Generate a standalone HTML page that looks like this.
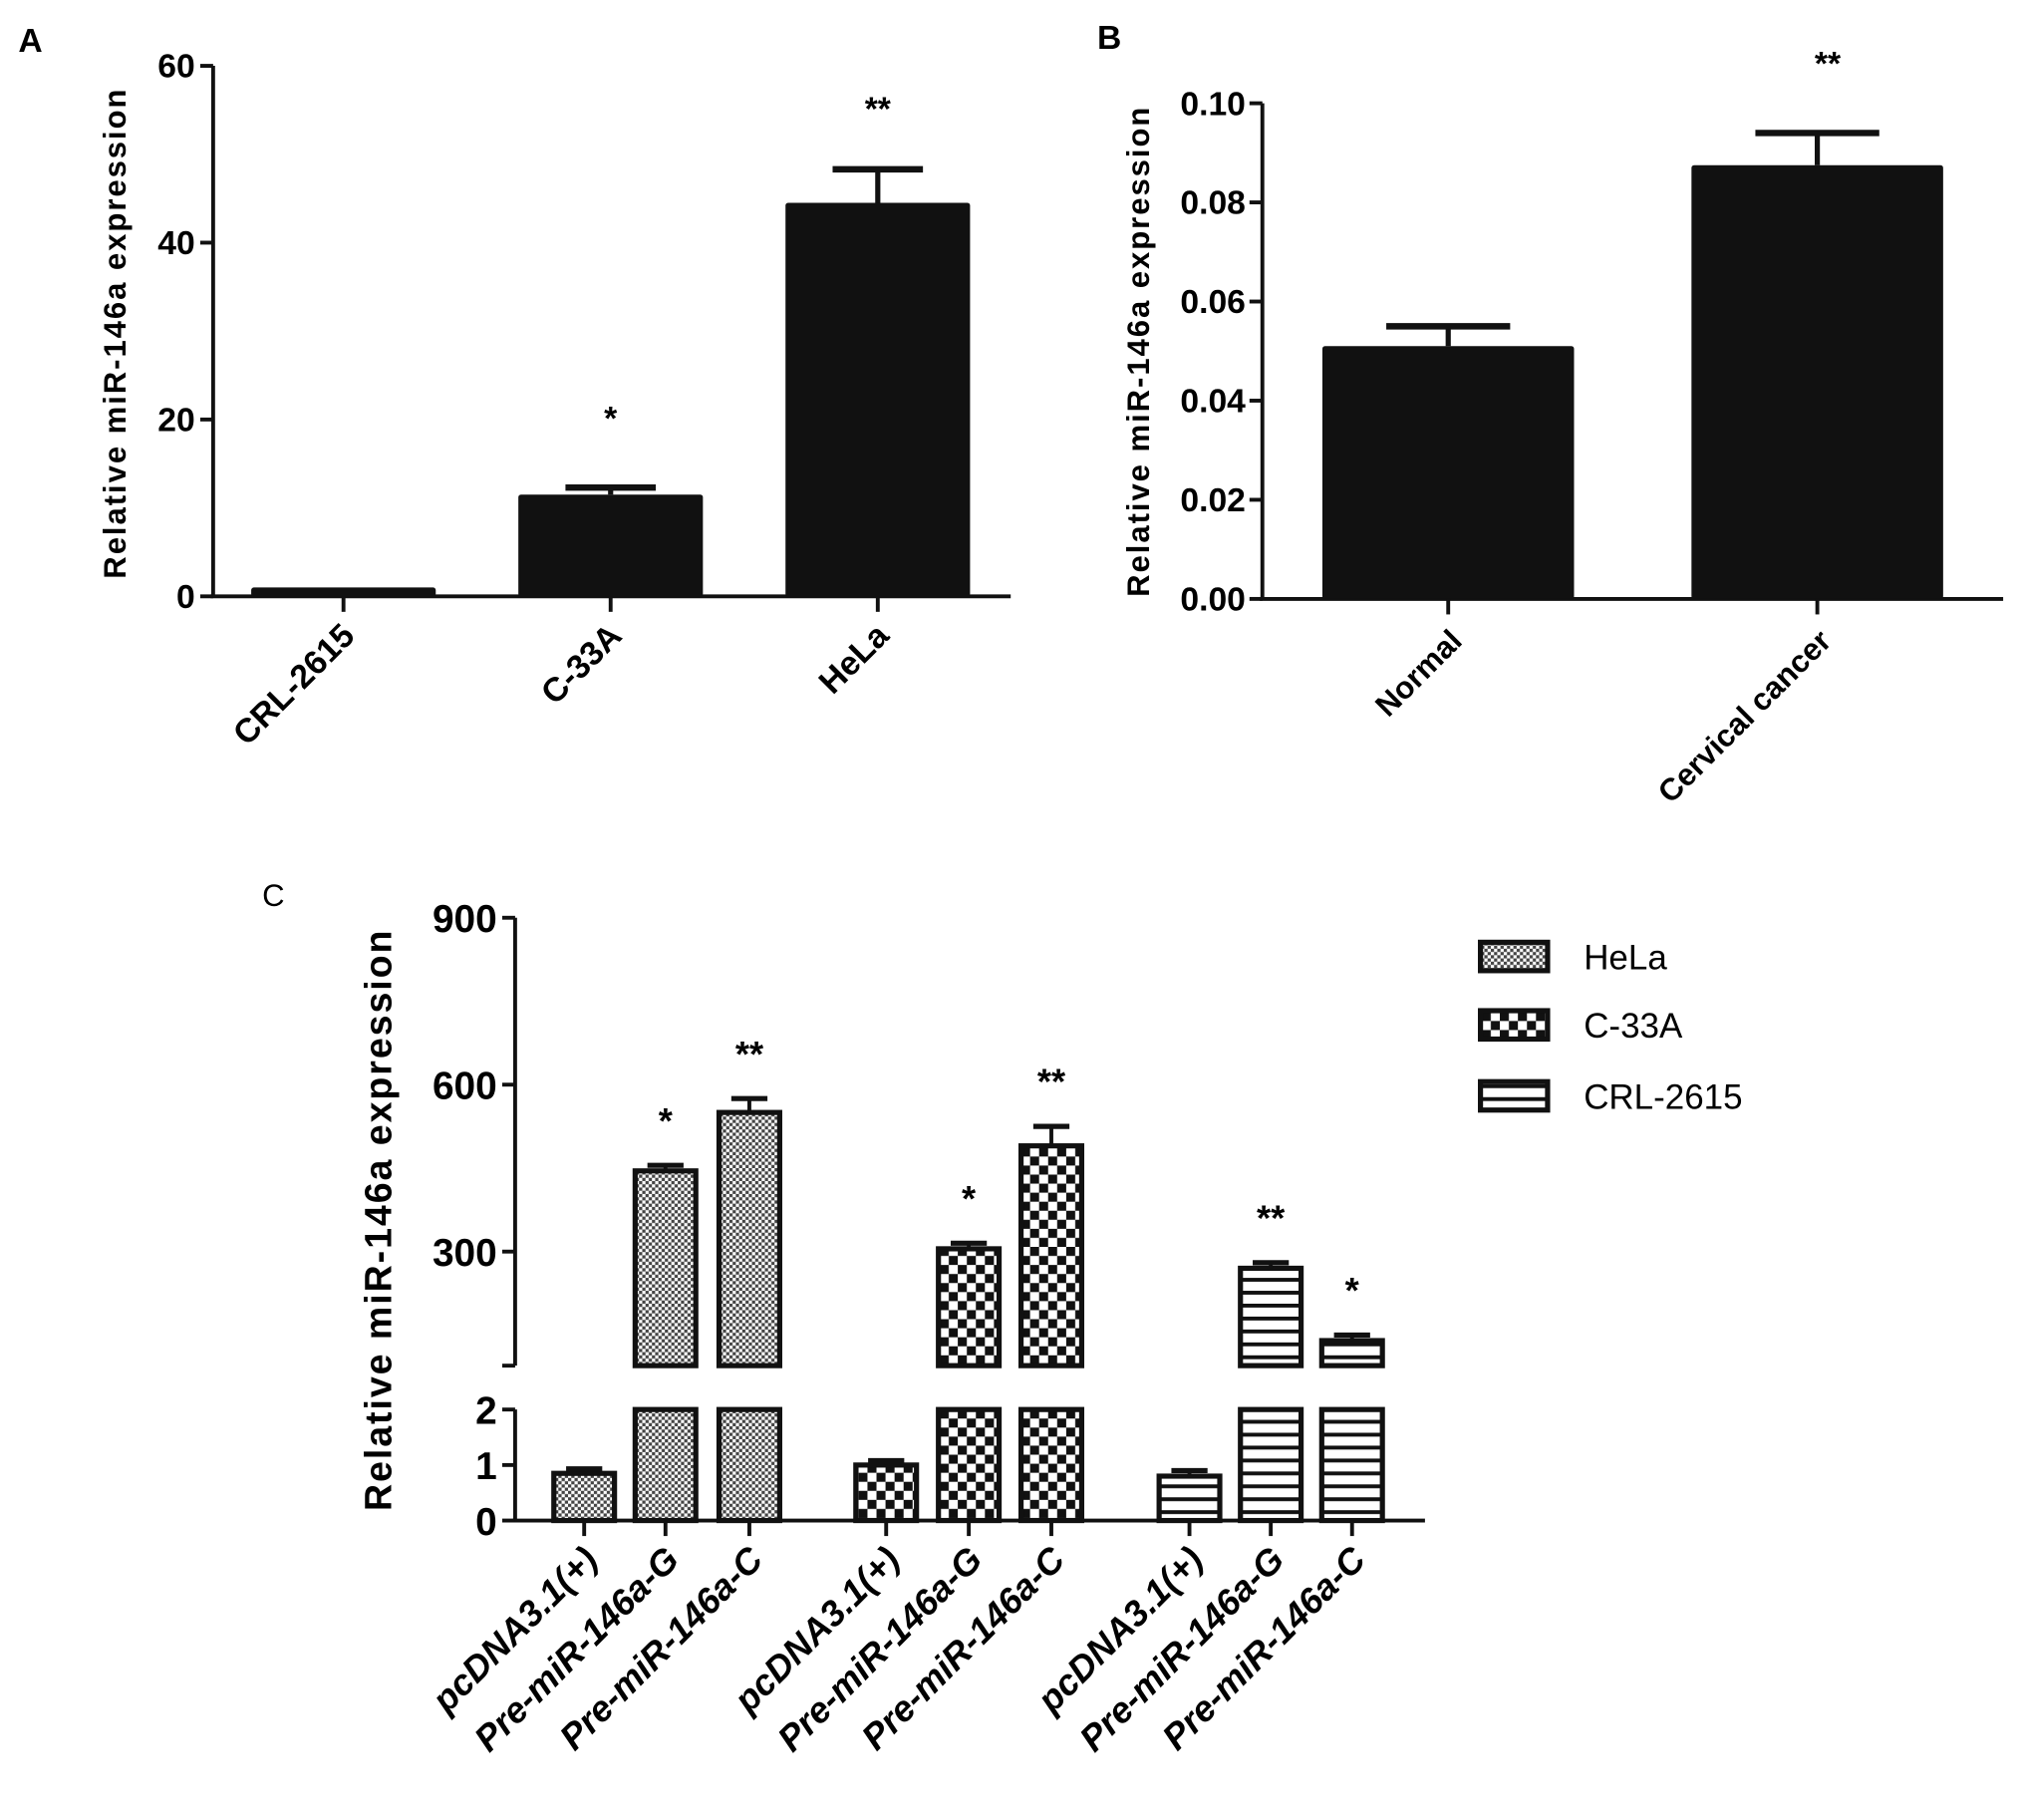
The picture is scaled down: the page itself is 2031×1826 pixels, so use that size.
<!DOCTYPE html>
<html><head><meta charset="utf-8"><style>
html,body{margin:0;padding:0;background:#fff;}
svg{display:block;font-family:"Liberation Sans",Arial,sans-serif;}
</style></head><body>
<svg id="fig" width="2031" height="1826" viewBox="0 0 1568 1410" xmlns="http://www.w3.org/2000/svg">
<defs>
<pattern id="patHela" width="5" height="5" patternUnits="userSpaceOnUse"><rect width="5" height="5" fill="#fff"/><rect width="2.5" height="2.5" fill="#444"/><rect x="2.5" y="2.5" width="2.5" height="2.5" fill="#444"/></pattern>
<pattern id="patC33" width="14" height="14" patternUnits="userSpaceOnUse"><rect width="14" height="14" fill="#fff"/><rect width="7" height="7" fill="#111"/><rect x="7" y="7" width="7" height="7" fill="#111"/></pattern>
<pattern id="patCRL" width="10" height="10" patternUnits="userSpaceOnUse"><rect width="10" height="10" fill="#fff"/><rect y="0" width="10" height="3" fill="#111"/></pattern>
</defs>
<g id="gA"></g>
<g id="gB"></g>
<g id="gC"></g>
</svg>
<script>
// Panel A data
const aCategories = ["CRL-2615","C-33A","HeLa"];
const aValues = [1.0, 11.5, 44.5];
const aErrors = [0.0, 0.8, 3.8];
const aStars = ["", "*", "**"];
const aTicks = [0,20,40,60];
// Panel B data
const bCategories = ["Normal","Cervical cancer"];
const bValues = [0.051, 0.0875];
const bErrors = [0.004, 0.0065];
const bStars = ["", "**"];
const bTicks = [0.00,0.02,0.04,0.06,0.08,0.10];
// Panel C data
const cGroups = ["HeLa","C-33A","CRL-2615"];
const cCategories = ["pcDNA3.1(+)","Pre-miR-146a-G","Pre-miR-146a-C"];
const cHela = [0.85, 445, 550];
const cC33 = [1.0, 305, 490];
const cCrl = [0.8, 270, 140];
const cHelaErr = [0.08, 10, 25];
const cC33Err = [0.08, 10, 35];
const cCrlErr = [0.1, 10, 10];
const cHelaStars = ["", "*", "**"];
const cC33Stars = ["", "*", "**"];
const cCrlStars = ["", "**", "*"];
const cUpperTicks = [300,600,900];
const cLowerTicks = [0,1,2];

const NS="http://www.w3.org/2000/svg";
function mk(parent, tag, attrs, text){
  const e=document.createElementNS(NS,tag);
  for(const k in attrs) e.setAttribute(k,attrs[k]);
  if(text!==undefined) e.textContent=text;
  parent.appendChild(e); return e;
}

// ---------- Panel A ----------
(function(){
  const g=document.getElementById('gA');
  const x0=165, xEnd=783, yTop=51, yBot=462, vmax=60;
  const y=v=>yBot-(v/vmax)*(yBot-yTop);
  const bw=143, centers=[266,473,680];
  let t=mk(g,'text',{x:14,y:40,'font-size':26,'font-weight':'bold'},'A');
   
  let l=mk(g,'line',{x1:x0,y1:yTop,x2:x0,y2:yBot,stroke:'#111','stroke-width':3});
   
  l=mk(g,'line',{x1:x0-2,y1:yBot,x2:xEnd,y2:yBot,stroke:'#111','stroke-width':3});
   
  aTicks.forEach(v=>{
    mk(g,'line',{x1:x0-10,y1:y(v),x2:x0,y2:y(v),stroke:'#111','stroke-width':3});
    const tt=mk(g,'text',{x:x0-14,y:y(v)+9,'font-size':26,'font-weight':'bold','text-anchor':'end'},String(v));
     
  });
  t=mk(g,'text',{transform:'translate(97,258) rotate(-90)','font-size':24,'font-weight':'bold','text-anchor':'middle','letter-spacing':1.5},'Relative miR-146a expression');
   
  aCategories.forEach((c,i)=>{
    const cx=centers[i];
    const b=mk(g,'rect',{x:cx-bw/2,y:y(aValues[i]),width:bw,height:yBot-y(aValues[i]),fill:'#111',rx:2});
     
    if(aErrors[i]>0){
      const ye=y(aValues[i]+aErrors[i]);
      mk(g,'line',{x1:cx,y1:y(aValues[i]),x2:cx,y2:ye,stroke:'#111','stroke-width':4});
      const eb=mk(g,'line',{x1:cx-35,y1:ye,x2:cx+35,y2:ye,stroke:'#111','stroke-width':5});
       
    }
    mk(g,'line',{x1:cx,y1:yBot,x2:cx,y2:yBot+12,stroke:'#111','stroke-width':3});
    const lab=mk(g,'text',{transform:`translate(${cx+10},${yBot+32}) rotate(-45)`,'font-size':26,'font-weight':'bold','text-anchor':'end'},c);
     
    if(aStars[i]){
      const s=mk(g,'text',{x:cx,y:y(aValues[i]+aErrors[i])-(i==2?38:45),'font-size':26,'font-weight':'bold','text-anchor':'middle'},aStars[i]);
       
    }
  });
})();

// ---------- Panel B ----------
(function(){
  const g=document.getElementById('gB');
  const x0=978, xEnd=1552, yTop=80, yBot=464, vmax=0.10;
  const y=v=>yBot-(v/vmax)*(yBot-yTop);
  const bw=195, centers=[1122,1408];
  let t=mk(g,'text',{x:850,y:38,'font-size':26,'font-weight':'bold'},'B');
   
  let l=mk(g,'line',{x1:x0,y1:yTop,x2:x0,y2:yBot,stroke:'#111','stroke-width':3});
   
  l=mk(g,'line',{x1:x0-2,y1:yBot,x2:xEnd,y2:yBot,stroke:'#111','stroke-width':3});
   
  bTicks.forEach(v=>{
    mk(g,'line',{x1:x0-10,y1:y(v),x2:x0,y2:y(v),stroke:'#111','stroke-width':3});
    const tt=mk(g,'text',{x:x0-13,y:y(v)+9,'font-size':26,'font-weight':'bold','text-anchor':'end'},v.toFixed(2));
     
  });
  t=mk(g,'text',{transform:'translate(890,272) rotate(-90)','font-size':24,'font-weight':'bold','text-anchor':'middle','letter-spacing':1.5},'Relative miR-146a expression');
   
  bCategories.forEach((c,i)=>{
    const cx=centers[i];
    const b=mk(g,'rect',{x:cx-bw/2,y:y(bValues[i]),width:bw,height:yBot-y(bValues[i]),fill:'#111',rx:2});
     
    const ye=y(bValues[i]+bErrors[i]);
    mk(g,'line',{x1:cx,y1:y(bValues[i]),x2:cx,y2:ye,stroke:'#111','stroke-width':4});
    const eb=mk(g,'line',{x1:cx-48,y1:ye,x2:cx+48,y2:ye,stroke:'#111','stroke-width':5});
     
    mk(g,'line',{x1:cx,y1:yBot,x2:cx,y2:yBot+12,stroke:'#111','stroke-width':3});
    const lab=mk(g,'text',{transform:`translate(${cx+12},${yBot+34}) rotate(-45)`,'font-size':24,'font-weight':'bold','text-anchor':'end'},c);
     
    if(bStars[i]){
      const s=mk(g,'text',{x:cx+8,y:58,'font-size':26,'font-weight':'bold','text-anchor':'middle'},bStars[i]);
       
    }
  });
})();

// ---------- Panel C ----------
(function(){
  const g=document.getElementById('gC');
  const x0=399, xEnd=1104;
  const uTop=711, uBot=1058, uMin=95, uMax=900;
  const lTop=1092, lBot=1178, lMax=2;
  const yU=v=>uBot-((v-uMin)/(uMax-uMin))*(uBot-uTop);
  const yL=v=>lBot-(v/lMax)*(lBot-lTop);
  const bw=47;
  const lefts=[[429,492,557],[663,727,791],[898,961,1024]];
  let t=mk(g,'text',{x:203,y:702,'font-size':24},'C');
   
  let l=mk(g,'line',{x1:x0,y1:uTop,x2:x0,y2:uBot,stroke:'#111','stroke-width':3});
   
  l=mk(g,'line',{x1:x0,y1:lTop,x2:x0,y2:lBot,stroke:'#111','stroke-width':3});
   
  mk(g,'line',{x1:x0-10,y1:uBot,x2:x0,y2:uBot,stroke:'#111','stroke-width':3});
  l=mk(g,'line',{x1:x0-2,y1:lBot,x2:xEnd,y2:lBot,stroke:'#111','stroke-width':3});
   
  cUpperTicks.forEach(v=>{
    mk(g,'line',{x1:x0-10,y1:yU(v),x2:x0,y2:yU(v),stroke:'#111','stroke-width':3});
    const tt=mk(g,'text',{x:x0-14,y:yU(v)+11,'font-size':30,'font-weight':'bold','text-anchor':'end'},String(v));
     
  });
  cLowerTicks.forEach(v=>{
    mk(g,'line',{x1:x0-10,y1:yL(v),x2:x0,y2:yL(v),stroke:'#111','stroke-width':3});
    const tt=mk(g,'text',{x:x0-14,y:yL(v)+11,'font-size':30,'font-weight':'bold','text-anchor':'end'},String(v));
     
  });
  t=mk(g,'text',{transform:'translate(303,945) rotate(-90)','font-size':29,'font-weight':'bold','text-anchor':'middle','letter-spacing':1.5},'Relative miR-146a expression');
   
  const series=[[cHela,cHelaErr,cHelaStars,'patHela'],[cC33,cC33Err,cC33Stars,'patC33'],[cCrl,cCrlErr,cCrlStars,'patCRL']];
  series.forEach((s,gi)=>{
    const [vals,errs,stars,pat]=s;
    vals.forEach((v,i)=>{
      const x=lefts[gi][i], cx=x+bw/2;
      if(v<=lMax){
        const b=mk(g,'rect',{x:x,y:yL(v),width:bw,height:lBot-yL(v),fill:`url(#${pat})`,stroke:'#111','stroke-width':4});
         
        const ye=yL(v+errs[i]);
        mk(g,'line',{x1:cx,y1:yL(v),x2:cx,y2:ye,stroke:'#111','stroke-width':3});
        const eb=mk(g,'line',{x1:cx-14,y1:ye,x2:cx+14,y2:ye,stroke:'#111','stroke-width':4});
         
      } else {
        const bl=mk(g,'rect',{x:x,y:lTop,width:bw,height:lBot-lTop,fill:`url(#${pat})`,stroke:'#111','stroke-width':4});
         
        const bu=mk(g,'rect',{x:x,y:yU(v),width:bw,height:uBot-yU(v),fill:`url(#${pat})`,stroke:'#111','stroke-width':4});
         
        const ye=yU(v+errs[i]);
        mk(g,'line',{x1:cx,y1:yU(v),x2:cx,y2:ye,stroke:'#111','stroke-width':3});
        const eb=mk(g,'line',{x1:cx-14,y1:ye,x2:cx+14,y2:ye,stroke:'#111','stroke-width':4});
         
        if(stars[i]){
          const st=mk(g,'text',{x:cx,y:ye-25,'font-size':28,'font-weight':'bold','text-anchor':'middle'},stars[i]);
           
        }
      }
      mk(g,'line',{x1:cx,y1:lBot,x2:cx,y2:lBot+12,stroke:'#111','stroke-width':3});
      const lab=mk(g,'text',{transform:`translate(${cx+12},${lBot+32}) rotate(-45)`,'font-size':28,'font-weight':'bold','font-style':'italic','text-anchor':'end'},cCategories[i]);
       
    });
  });
  const pats=['patHela','patC33','patCRL'], ly=[741,794,849];
  cGroups.forEach((name,i)=>{
    const r=mk(g,'rect',{x:1147,y:ly[i]-11,width:52,height:22,fill:`url(#${pats[i]})`,stroke:'#111','stroke-width':4});
     
    const tx=mk(g,'text',{x:1227,y:ly[i]+10,'font-size':27},name);
     
  });
})();
</script>
</body></html>
